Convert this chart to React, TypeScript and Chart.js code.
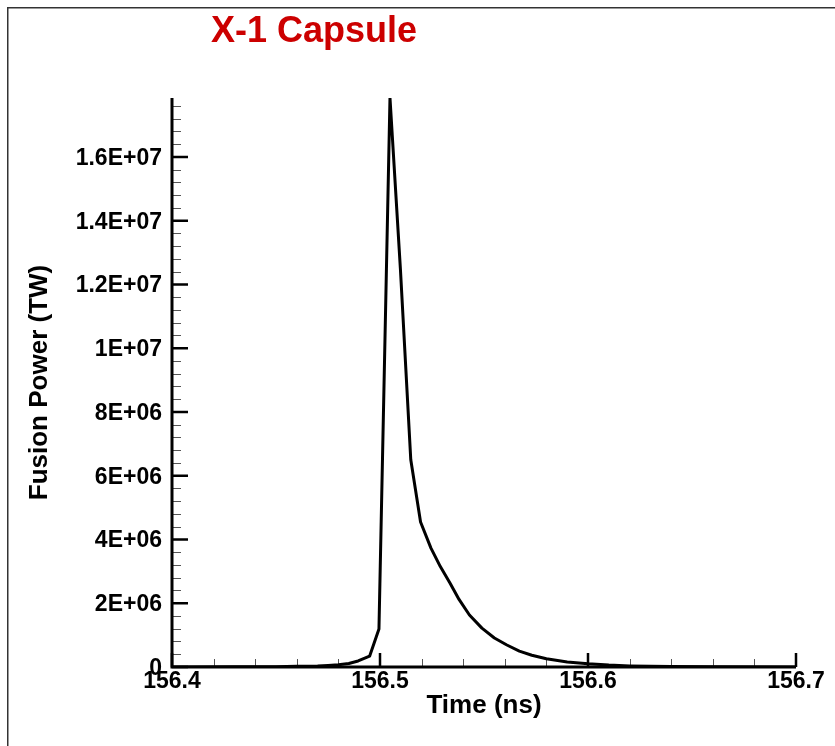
import React, { useEffect, useRef } from "react";
import { Chart, registerables } from "chart.js";

Chart.register(...registerables);

const chartTitle = "X-1 Capsule";
const xTitle = "Time (ns)";
const yTitle = "Fusion Power (TW)";

const timeNs = [
  156.4, 156.43, 156.45, 156.46, 156.47, 156.475, 156.48, 156.485, 156.4895,
  156.495, 156.4995, 156.5048, 156.5098, 156.5148, 156.5195, 156.5245, 156.529,
  156.5337, 156.538, 156.543, 156.549, 156.555, 156.561, 156.567, 156.573,
  156.58, 156.59, 156.6, 156.61, 156.62, 156.64, 156.66, 156.7,
];
const powerTW = [
  0, 5e3, 1e4, 2e4, 3.5e4, 5e4, 7e4, 1.1e5, 1.9e5,
  3.4e5, 1.19e6, 1.785e7, 1.25e7, 6.5e6, 4.55e6, 3.73e6, 3.15e6,
  2.63e6, 2.12e6, 1.63e6, 1.22e6, 9.1e5, 6.9e5, 5.0e5, 3.7e5,
  2.6e5, 1.6e5, 1.0e5, 6e4, 3.5e4, 1.2e4, 5e3, 0,
];

const xTickValues = [156.4, 156.5, 156.6, 156.7];
const xTickLabels = ["156.4", "156.5", "156.6", "156.7"];
const xMinorStep = 0.02;
const yTickValues = [0, 2e6, 4e6, 6e6, 8e6, 1e7, 1.2e7, 1.4e7, 1.6e7];
const yTickLabels = ["0", "2E+06", "4E+06", "6E+06", "8E+06", "1E+07", "1.2E+07", "1.4E+07", "1.6E+07"];
const yMinorStep = 4e5;
const xMin = 156.4;
const xMax = 156.7;
const yMin = 0;
const yMax = 1.785e7;

const FONT = '"Liberation Sans", Arial, sans-serif';

const decorPlugin = {
  id: "decor",
  beforeDatasetsDraw(chart: any) {
    const { ctx, scales } = chart;
    const xs = scales.x;
    const ys = scales.y;
    const x0 = xs.getPixelForValue(xMin);
    const x1 = xs.getPixelForValue(xMax);
    const y0 = ys.getPixelForValue(yMin);
    const y1 = ys.getPixelForValue(yMax);
    ctx.save();
    ctx.strokeStyle = "#555";
    ctx.lineWidth = 1;
    ctx.beginPath();
    for (let v = yMin; v <= yMax + 1; v += yMinorStep) {
      const py = Math.round(ys.getPixelForValue(v)) + 0.5;
      ctx.moveTo(x0, py);
      ctx.lineTo(x0 + 9, py);
    }
    const nx = Math.round((xMax - xMin) / xMinorStep);
    for (let i = 0; i <= nx; i++) {
      const px = Math.round(xs.getPixelForValue(xMin + i * xMinorStep)) + 0.5;
      ctx.moveTo(px, y0);
      ctx.lineTo(px, y0 - 8);
    }
    ctx.stroke();
    ctx.strokeStyle = "#000";
    ctx.lineWidth = 2.5;
    ctx.beginPath();
    yTickValues.forEach((v) => {
      const py = ys.getPixelForValue(v);
      ctx.moveTo(x0, py);
      ctx.lineTo(x0 + 16, py);
    });
    xTickValues.forEach((v) => {
      const px = xs.getPixelForValue(v);
      ctx.moveTo(px, y0);
      ctx.lineTo(px, y0 - 14);
    });
    ctx.stroke();
    ctx.lineWidth = 3;
    ctx.beginPath();
    ctx.moveTo(x0, y1);
    ctx.lineTo(x0, y0);
    ctx.lineTo(x1, y0);
    ctx.stroke();
    ctx.restore();
  },
  afterDraw(chart: any) {
    const { ctx } = chart;
    ctx.save();
    ctx.strokeStyle = "#333";
    ctx.lineWidth = 1.5;
    ctx.strokeRect(7.75, 7.75, 900, 900);
    ctx.fillStyle = "#cc0000";
    ctx.font = "bold 36px " + FONT;
    ctx.textAlign = "center";
    ctx.textBaseline = "alphabetic";
    ctx.fillText(chartTitle, 314, 42);
    ctx.restore();
  },
};

export default function App() {
  const ref = useRef<HTMLCanvasElement | null>(null);
  useEffect(() => {
    if (!ref.current) return;
    const chart = new Chart(ref.current, {
      type: "line",
      data: {
        datasets: [
          {
            data: timeNs.map((t, i) => ({ x: t, y: powerTW[i] })),
            borderColor: "#000",
            borderWidth: 3,
            pointRadius: 0,
            tension: 0,
            fill: false,
            borderJoinStyle: "round",
          } as any,
        ],
      },
      options: {
        animation: false,
        responsive: false,
        maintainAspectRatio: false,
        layout: { padding: { left: 0, top: 98, right: 39, bottom: 0 } },
        plugins: { legend: { display: false }, tooltip: { enabled: false }, title: { display: false } },
        scales: {
          x: {
            type: "linear",
            min: xMin,
            max: xMax,
            afterFit: (s: any) => { s.height = 79; },
            afterBuildTicks: (s: any) => { s.ticks = xTickValues.map((v) => ({ value: v })); },
            grid: { display: false, drawTicks: false },
            border: { display: false },
            ticks: {
              padding: 1,
              color: "#000",
              font: { family: FONT, size: 23, weight: "bold" },
              maxRotation: 0,
              autoSkip: false,
              callback: (v: any) => {
                const i = xTickValues.findIndex((t) => Math.abs(t - v) < 1e-6);
                return i >= 0 ? xTickLabels[i] : "";
              },
            },
            title: {
              display: true,
              text: xTitle,
              color: "#000",
              font: { family: FONT, size: 26, weight: "bold" },
              padding: { top: 0, bottom: 25 },
            },
          },
          y: {
            type: "linear",
            min: yMin,
            max: yMax,
            afterFit: (s: any) => { s.width = 172; },
            afterBuildTicks: (s: any) => { s.ticks = yTickValues.map((v) => ({ value: v })); },
            grid: { display: false, drawTicks: false },
            border: { display: false },
            ticks: {
              padding: 10,
              labelOffset: 1.5,
              color: "#000",
              font: { family: FONT, size: 23, weight: "bold" },
              autoSkip: false,
              callback: (v: any) => {
                const i = yTickValues.findIndex((t) => Math.abs(t - v) < 1);
                return i >= 0 ? yTickLabels[i] : "";
              },
            },
            title: {
              display: true,
              text: yTitle,
              color: "#000",
              font: { family: FONT, size: 26, weight: "bold" },
              padding: { top: 24, bottom: 0 },
            },
          },
        },
      },
      plugins: [decorPlugin],
    });
    return () => chart.destroy();
  }, []);
  return (
    <canvas
      ref={ref}
      width={835}
      height={746}
      style={{ position: "fixed", left: 0, top: 0, width: 835, height: 746, background: "#fff" }}
    />
  );
}
